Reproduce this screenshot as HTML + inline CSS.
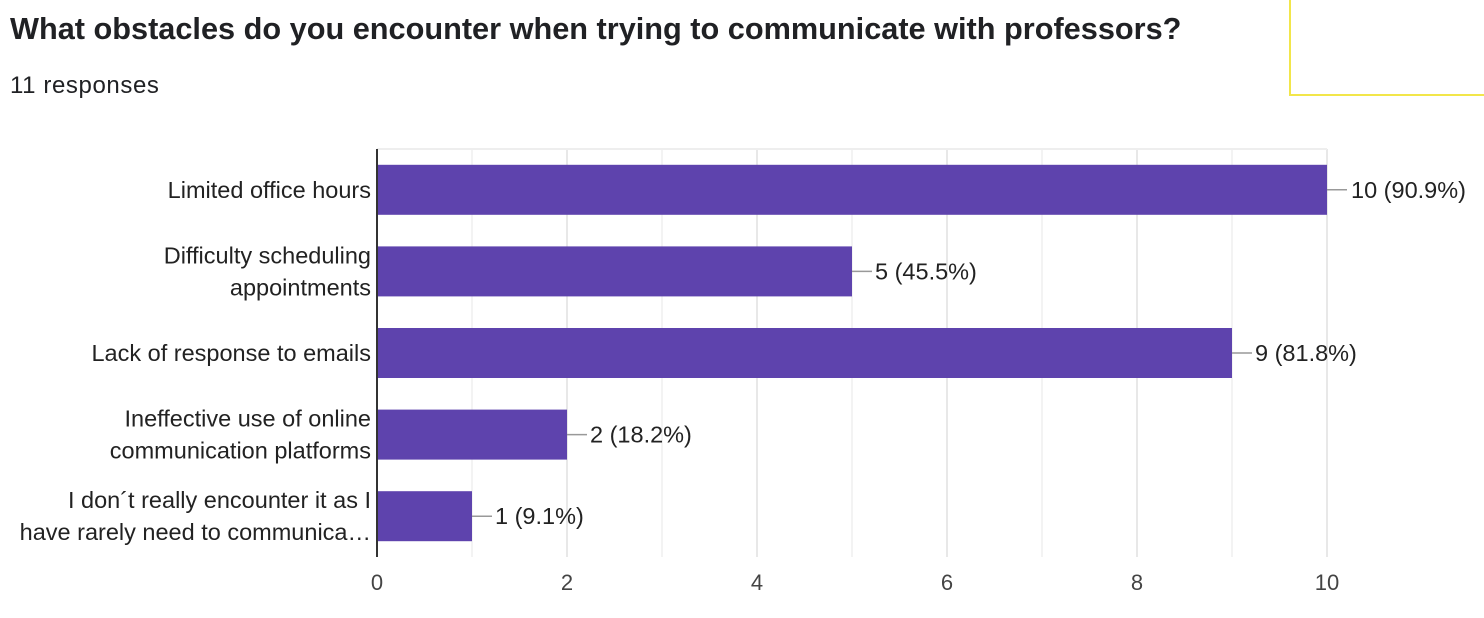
<!DOCTYPE html>
<html><head><meta charset="utf-8"><style>
body{margin:0;background:#fff;width:1484px;height:618px;overflow:hidden;font-family:"Liberation Sans",Arial,sans-serif;}
</style></head><body>
<div style="position:absolute;left:10px;top:11px;font-size:30.7px;font-weight:bold;color:#202124;white-space:nowrap;">What obstacles do you encounter when trying to communicate with professors?</div>
<div style="position:absolute;left:10px;top:72px;font-size:24px;letter-spacing:0.6px;color:#202124;">11 responses</div>
<div style="position:absolute;left:1289px;top:-2px;width:200px;height:96px;border-left:2px solid #f2e64a;border-bottom:2px solid #f2e64a;"></div>
<svg id="chart" width="1484" height="618" style="position:absolute;left:0;top:0;font-family:'Liberation Sans',Arial,sans-serif;"></svg>
<script>
const categories=[["Limited office hours"],["Difficulty scheduling","appointments"],["Lack of response to emails"],["Ineffective use of online","communication platforms"],["I don´t really encounter it as I","have rarely need to communica…"]];
const values=[10,5,9,2,1];
const valueLabels=["10 (90.9%)","5 (45.5%)","9 (81.8%)","2 (18.2%)","1 (9.1%)"];
const ticks=[0,2,4,6,8,10];
const svg=document.getElementById('chart');
const NS='http://www.w3.org/2000/svg';
const x0=377,x1=1327,xmax=10,yTop=149,yBottom=557;
const xs=v=>x0+(x1-x0)*v/xmax;
const rowH=(yBottom-yTop)/categories.length;
function mk(t,a){const e=document.createElementNS(NS,t);for(const k in a)e.setAttribute(k,a[k]);svg.appendChild(e);return e;}
for(let v=1;v<=xmax;v++){
 const g=mk('line',{x1:xs(v),x2:xs(v),y1:yTop,y2:yBottom,stroke:v%2?'#f3f3f3':'#e8e8e8','stroke-width':2});
 
 
}
const tl=mk('line',{x1:x0,x2:x1,y1:yTop,y2:yTop,stroke:'#eeeeee','stroke-width':2});


ticks.forEach(t=>{
 const e=mk('text',{x:xs(t),y:590,'text-anchor':'middle','font-size':22,fill:'#444'});e.textContent=t;
 
 
});
values.forEach((v,i)=>{
 const cy=yTop+rowH*(i+0.5);
 const b=mk('rect',{x:x0,y:cy-25,width:xs(v)-x0,height:50,fill:'#5e43ad'});
 
 
 const ln=mk('line',{x1:xs(v),x2:xs(v)+20,y1:cy,y2:cy,stroke:'#999','stroke-width':1.5});
 
 
 const vl=mk('text',{x:xs(v)+(v>=10?24:23),y:cy+8,'font-size':23.5,fill:'#222'});vl.textContent=valueLabels[i];
 
 
 const lines=categories[i];
 lines.forEach((s,j)=>{
  const t=mk('text',{x:371,y:cy+8+(j-(lines.length-1)/2)*32,'text-anchor':'end','font-size':23.5,fill:'#222'});t.textContent=s;
  
  
 });
});
const ax=mk('line',{x1:x0,x2:x0,y1:yTop,y2:yBottom,stroke:'#333','stroke-width':2});


</script>
</body></html>
